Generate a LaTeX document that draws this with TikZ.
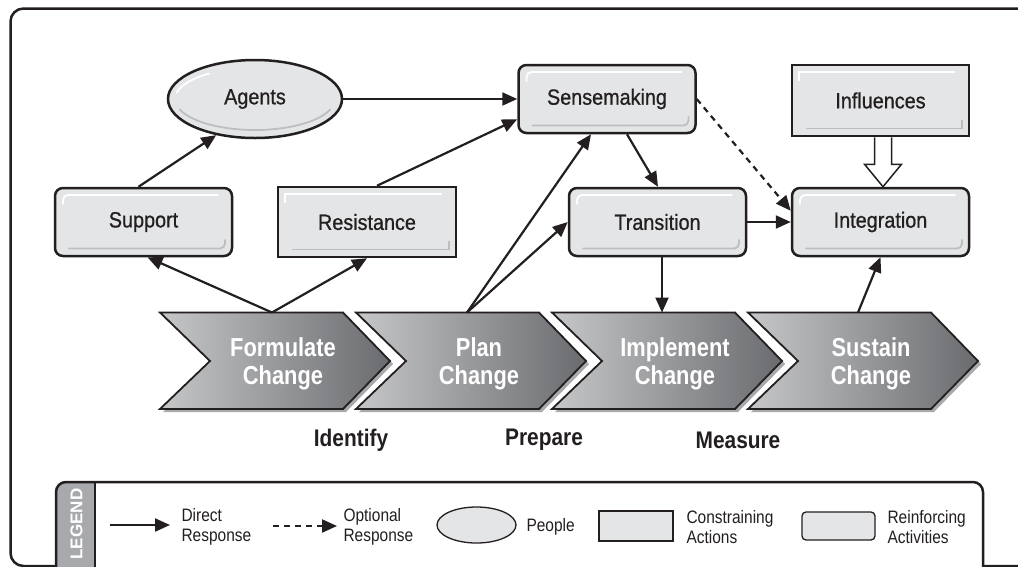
\documentclass[tikz,border=0pt]{standalone}
\usepackage{fontspec}
\setmainfont{Liberation Sans}
\newfontfamily\nodefont[FakeStretch=0.9,FakeBold=0.8]{Liberation Sans}
\newfontfamily\chevfont[FakeStretch=0.84]{Liberation Sans}
\newfontfamily\phasefont[FakeStretch=0.87]{Liberation Sans}
\newfontfamily\legfont[FakeStretch=0.86]{Liberation Sans}
\usetikzlibrary{arrows.meta,shapes.geometric,calc}
\definecolor{ink}{HTML}{231F20}
\definecolor{boxfill}{HTML}{E4E5E7}
\definecolor{bevelgray}{HTML}{BCBEC0}
\definecolor{chevL}{HTML}{C6C7C9}
\definecolor{chevR}{HTML}{6A6B6E}
\definecolor{chevshadow}{HTML}{A7A9AC}
\definecolor{legbar}{HTML}{A7A9AC}
\begin{document}
\begin{tikzpicture}[x=1pt,y=-1pt,
  conn/.style={draw=ink,line width=2.2pt,-{Triangle[length=15pt,width=13pt]}},
  optconn/.style={conn,dash pattern=on 6pt off 5pt},
  rbevel/.style={path picture={
    \draw[white,line width=1.8pt,rounded corners=5pt,line cap=round]
      ([shift={(8pt,-16pt)}]path picture bounding box.north west) |- ([shift={(-14pt,-7pt)}]path picture bounding box.north east);
    \draw[bevelgray,line width=1.8pt,rounded corners=5pt,line cap=round]
      ([shift={(14pt,7.5pt)}]path picture bounding box.south west) -| ([shift={(-7pt,16pt)}]path picture bounding box.south east);
  }},
  sbevel/.style={path picture={
    \draw[white,line width=1.8pt,sharp corners]
      ([shift={(7pt,-16pt)}]path picture bounding box.north west) |- ([shift={(-14pt,-7pt)}]path picture bounding box.north east);
    \draw[bevelgray,line width=1.8pt,sharp corners]
      ([shift={(14pt,7.5pt)}]path picture bounding box.south west) -| ([shift={(-7pt,16pt)}]path picture bounding box.south east);
  }},
  boxtext/.style={font=\nodefont\fontsize{22}{25}\selectfont,text=ink},
  rbox/.style={boxtext,draw=ink,line width=2.5pt,fill=boxfill,rounded corners=8pt,
    minimum width=177pt,minimum height=68pt,rbevel},
  sbox/.style={boxtext,draw=ink,line width=2.5pt,fill=boxfill,sharp corners,
    minimum width=178pt,minimum height=70pt,sbevel},
  pbox/.style={boxtext,draw=ink,line width=2.5pt,fill=boxfill,ellipse,
    minimum width=174pt,minimum height=78pt,inner sep=0pt},
  chevtext/.style={font=\chevfont\bfseries\fontsize{26}{28}\selectfont,text=white,align=center},
  phase/.style={font=\phasefont\bfseries\fontsize{24}{26}\selectfont,text=ink},
  legtext/.style={font=\legfont\fontsize{18}{20}\selectfont,text=ink,align=left,anchor=west},
  legshape/.style={draw=ink,line width=1.3pt,fill=boxfill,inner sep=0pt}
]
\useasboundingbox (0,0) rectangle (1018,566);
\clip (0,0) rectangle (1018,566);
\fill[white] (0,0) rectangle (1018,566);

% outer frame
\draw[ink,line width=2.5pt,rounded corners=13pt] (10.5,566) rectangle (1040,8.5);

% chevrons
\foreach \x/\nm/\la/\lb in {160/formulate/Formulate/Change,356/plan/Plan/Change,552/implement/Implement/Change,748/sustain/Sustain/Change}{
  \fill[chevshadow] (\x+3,315.5) -- ++(183,0) -- ++(47,48.5) -- ++(-47,48) -- ++(-183,0) -- ++(50,-48) -- cycle;
  \shadedraw[draw=ink,line width=1.8pt,left color=chevL,right color=chevR]
    (\x,312.5) -- ++(183,0) -- ++(47,48.5) -- ++(-47,48) -- ++(-183,0) -- ++(50,-48) -- cycle;
  \node[chevtext] (\nm) at (\x+123,364) {\la\\\lb};
}
\coordinate (fc) at (272,312.5);
\coordinate (pc) at (467,312.5);
\coordinate (ic) at (662,312.5);
\coordinate (sc) at (858,312.5);

% boxes
\node[pbox] (agents) at (255,99) {Agents};
\draw[white,line width=1.8pt,line cap=round] ($(agents.center)+(192:80 and 31)$) arc[start angle=192,end angle=235,x radius=80,y radius=31];
\draw[bevelgray,line width=1.8pt,line cap=round] ($(agents.center)+(160:80 and 31)$) arc[start angle=160,end angle=20,x radius=80,y radius=31];
\node[rbox] (support) at (143.5,222) {Support};
\node[sbox] (resist) at (367,222) {Resistance};
\node[rbox] (sense) at (607,99) {Sensemaking};
\node[sbox,minimum width=177pt,minimum height=71pt] (influ) at (880.5,100.5) {Influences};
\node[rbox] (trans) at (657.5,222) {Transition};
\node[rbox] (integ) at (880.5,222) {Integration};

% connectors
\draw[conn] ($(support.north)+(-5,0)$) -- (agents.223);
\draw[conn] (agents) -- (sense);
\draw[conn] ($(resist.north)+(10,0)$) -- ($(sense.south west)+(0,-15)$);
\draw[conn] (fc) -- ($(support.south)+(4,0)$);
\draw[conn] (fc) -- (resist.south);
\draw[conn] (pc) -- ($(sense.south)+(-16,0)$);
\draw[conn] (pc) -- (trans.west);
\draw[conn] ($(sense.south)+(20,0)$) -- ($(trans.north)+(0.5,0)$);
\draw[optconn] (sense.east) -- ($(integ.north west)+(0,24)$);
\draw[conn] (trans) -- (integ);
\draw[conn] ($(trans.south)+(4.5,0)$) -- (ic);
\draw[conn] (sc) -- (integ.south);
\draw[ink,line width=1.5pt,fill=white,line join=miter]
  ($(influ.south)+(-6,0)$) -- ++(0,27) -- ++(-10,0) -- ($(integ.north)+(2.5,0)$)
  -- ($(influ.south)+(21,27)$) -- ++(-10,0) -- ($(influ.south)+(11,0)$);

% phase labels
\node[phase] (identify) at (351,440) {Identify};
\node[phase] (prepare) at (544,440) {Prepare};
\node[phase] (measure) at (738,440) {Measure};

% legend
\begin{scope}
  \clip[rounded corners=10pt] (56,610) rectangle (983,482);
  \fill[white] (56,610) rectangle (983,482);
  \fill[legbar] (56,482) rectangle (95,610);
\end{scope}
\draw[ink,line width=2pt] (95,482) -- (95,610);
\draw[ink,line width=2.5pt,rounded corners=10pt] (56,610) rectangle (983,482);
\node[rotate=90,text=white,font=\bfseries\fontsize{17}{20}\selectfont] (legendlbl) at (76.5,524) {LEGEND};

\coordinate (la1) at (110,525);
\coordinate (la2) at (170,525);
\draw[conn] (la1) -- (la2);
\node[legtext] (ldirect) at (178,527) {Direct\\Response};
\coordinate (lb1) at (273,526);
\coordinate (lb2) at (337,526);
\draw[optconn] (lb1) -- (lb2);
\node[legtext] (loptional) at (340,527) {Optional\\Response};
\node[legshape,ellipse,minimum width=79pt,minimum height=36pt] (lpeople) at (476.5,525) {};
\node[legtext] (lpeopletxt) at (523,527) {People};
\node[legshape,minimum width=74pt,minimum height=30pt] (lconstr) at (636,526) {};
\node[legtext] (lconstrtxt) at (683,527) {Constraining\\Actions};
\node[legshape,rounded corners=4pt,minimum width=73pt,minimum height=28pt] (lreinf) at (838.5,526) {};
\node[legtext] (lreinftxt) at (884,527) {Reinforcing\\Activities};
\end{tikzpicture}
\end{document}
